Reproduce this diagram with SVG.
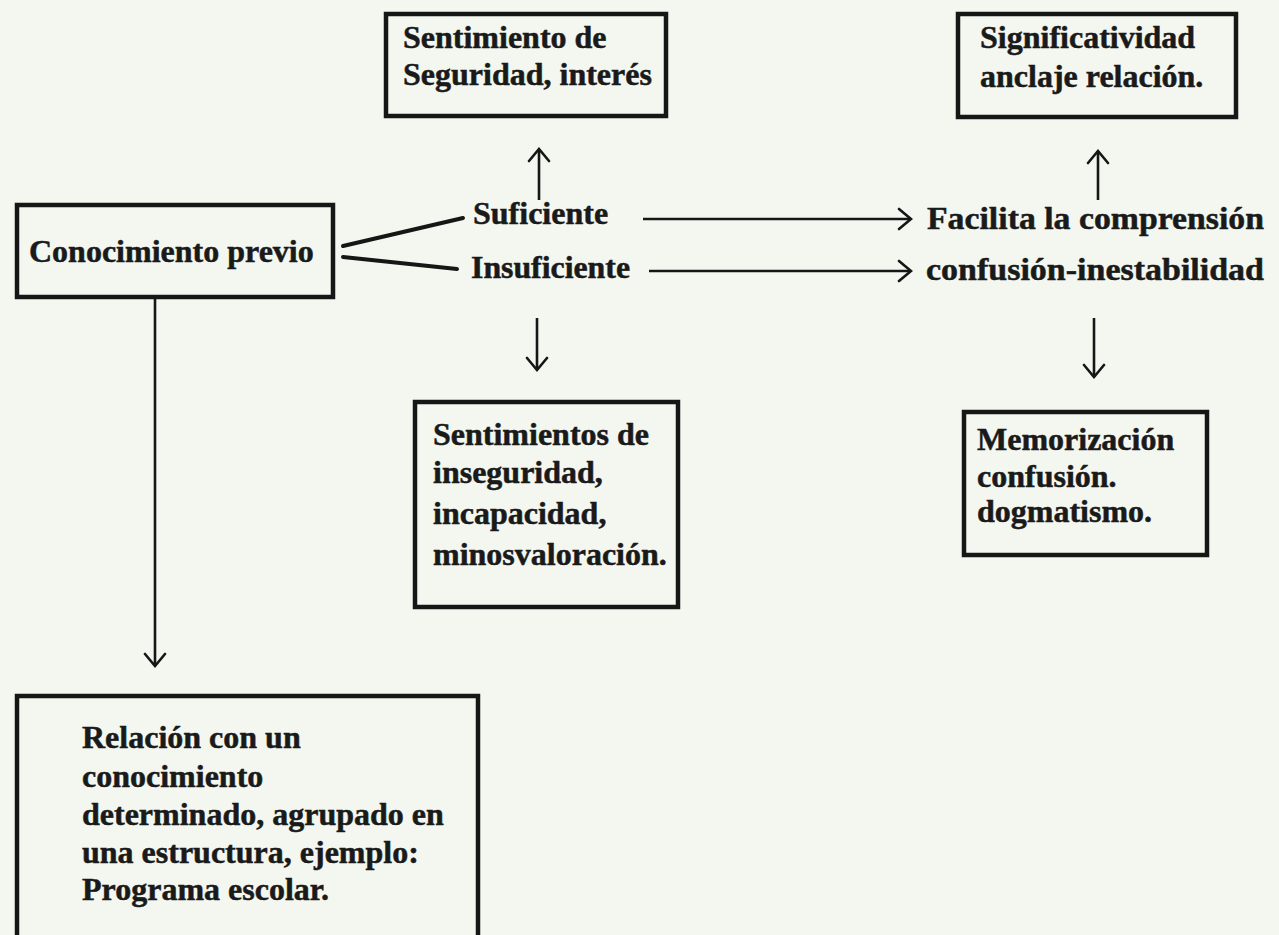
<svg xmlns="http://www.w3.org/2000/svg" width="1279" height="935" viewBox="0 0 1279 935">
  <style>
    .box { fill: none; stroke: #161616; stroke-width: 4.5; }
    .t { font-family: "Liberation Serif", "Times New Roman", serif; font-weight: bold; font-size: 32px; fill: #1a1a1a; stroke: #1a1a1a; stroke-width: 0.5; }
    .conn { fill: none; stroke: #161616; stroke-width: 2.6; }
    .thick { fill: none; stroke: #161616; stroke-width: 4; stroke-linecap: round; }
  </style>
  <defs>
    <marker id="arrow" viewBox="-2 -2 16 24" refX="12" refY="10" markerWidth="16" markerHeight="24" markerUnits="userSpaceOnUse" orient="auto">
      <path d="M0,0 L12,10 L0,20" fill="none" stroke="#161616" stroke-width="2.6" stroke-linecap="round" stroke-linejoin="miter"/>
    </marker>
  </defs>
  <rect x="0" y="0" width="1279" height="935" fill="#f3f7f0"/>

  <g id="connectors">
    <line class="thick" x1="343" y1="246" x2="463" y2="218"/>
    <line class="thick" x1="343" y1="257" x2="457" y2="269"/>
    <line class="conn" x1="539" y1="200" x2="539" y2="149" marker-end="url(#arrow)"/>
    <line class="conn" x1="537" y1="318" x2="537" y2="370" marker-end="url(#arrow)"/>
    <line class="conn" x1="643" y1="219" x2="911" y2="219" marker-end="url(#arrow)"/>
    <line class="conn" x1="649" y1="271" x2="911" y2="271" marker-end="url(#arrow)"/>
    <line class="conn" x1="1098" y1="200" x2="1098" y2="151" marker-end="url(#arrow)"/>
    <line class="conn" x1="1094" y1="318" x2="1094" y2="377" marker-end="url(#arrow)"/>
    <line class="conn" x1="155" y1="299" x2="155" y2="666" marker-end="url(#arrow)"/>
  </g>

  <g id="node-seguridad">
    <rect class="box" x="386" y="14" width="280" height="102"/>
    <text class="t" x="403" y="48">Sentimiento de</text>
    <text class="t" x="403" y="85">Seguridad, interés</text>
  </g>

  <g id="node-significatividad">
    <rect class="box" x="958" y="14" width="278" height="103"/>
    <text class="t" x="980" y="48">Significatividad</text>
    <text class="t" x="980" y="87">anclaje relación.</text>
  </g>

  <g id="node-conocimiento">
    <rect class="box" x="17" y="205" width="316" height="92"/>
    <text class="t" x="29" y="262">Conocimiento previo</text>
  </g>

  <g id="node-suficiente">
    <text class="t" x="473" y="224">Suficiente</text>
  </g>

  <g id="node-insuficiente">
    <text class="t" x="471" y="278" textLength="159" lengthAdjust="spacingAndGlyphs">Insuficiente</text>
  </g>

  <g id="node-facilita">
    <text class="t" x="927" y="229" textLength="337" lengthAdjust="spacingAndGlyphs">Facilita la comprensión</text>
  </g>

  <g id="node-confusion">
    <text class="t" x="926" y="280" textLength="338" lengthAdjust="spacingAndGlyphs">confusión-inestabilidad</text>
  </g>

  <g id="node-inseguridad">
    <rect class="box" x="415" y="402" width="263" height="205"/>
    <text class="t" x="433" y="445">Sentimientos de</text>
    <text class="t" x="433" y="483">inseguridad,</text>
    <text class="t" x="433" y="524">incapacidad,</text>
    <text class="t" x="433" y="565">minosvaloración.</text>
  </g>

  <g id="node-memorizacion">
    <rect class="box" x="964" y="412" width="243" height="143"/>
    <text class="t" x="977" y="450">Memorización</text>
    <text class="t" x="977" y="487">confusión.</text>
    <text class="t" x="977" y="522">dogmatismo.</text>
  </g>

  <g id="node-relacion">
    <rect class="box" x="17" y="696" width="461" height="245"/>
    <text class="t" x="82" y="748">Relación con un</text>
    <text class="t" x="82" y="787">conocimiento</text>
    <text class="t" x="82" y="825">determinado, agrupado en</text>
    <text class="t" x="82" y="863">una estructura, ejemplo:</text>
    <text class="t" x="82" y="900">Programa escolar.</text>
  </g>
</svg>
